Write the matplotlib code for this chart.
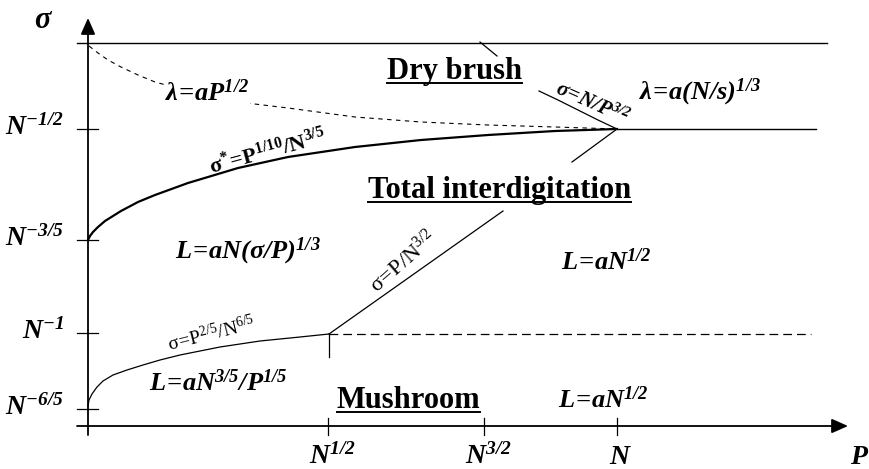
import matplotlib

matplotlib.use("Agg")
import matplotlib.pyplot as plt

plt.rcParams["font.family"] = ["Liberation Serif", "DejaVu Serif"]
plt.rcParams["mathtext.default"] = "regular"

# schematic units: x ~ log P, y ~ log sigma, origin at the axes corner
x_ticks = [240, 396, 529]
x_tick_labels = [r"$N^{1/2}$", r"$N^{3/2}$", r"$N$"]
y_ticks = [297, 186, 93, 17]
y_tick_labels = [r"$N^{-1/2}$", r"$N^{-3/5}$", r"$N^{-1}$", r"$N^{-6/5}$"]

x_end = 760
y_end = 408
top_y = 383.5
top_x_end = 739
half_line_x = [529, 728]

# sigma* = P^(1/10)/N^(3/5)  (thick boundary)
star_x = [0, 2, 5, 10, 17, 25, 33, 50, 67, 100, 150, 200, 267, 333, 400, 467, 529]
star_y = [186, 190, 194, 199, 205, 210, 215, 224, 231, 243, 258, 269, 279, 286, 291, 295, 297]

# lambda = a P^(1/2)  (dashed)
lam_x = [1, 10, 20, 33, 50, 67, 100, 150, 200, 267, 333, 400, 467, 529]
lam_y = [380, 373, 366, 359, 351, 344, 335, 324, 318, 309, 304, 301, 299, 297]

# sigma = P^(2/5)/N^(6/5)
mush_x = [0, 1, 4, 9, 15, 25, 39, 55, 72, 92, 132, 172, 212, 241]
mush_y = [20, 26, 32, 39, 45, 51, 56, 61, 66, 71, 79, 85, 89, 92]

# sigma = N/P^(3/2)
nb_x = [451, 470, 490, 510, 529]
nb_y = [335, 326, 316, 306, 297]

# straight boundaries
inter_x = [241, 415]
inter_y = [92, 215]
junction_x = [529, 484]
junction_y = [297, 264]
top_stub_x = [392, 409]
top_stub_y = [384, 370]
mush_stub_x = [241, 241]
mush_stub_y = [92, 69]
mush_dash_x = [241, 723]
mush_dash_y = [92, 92]

fig = plt.figure(figsize=(8.7, 4.69), dpi=100)
ax = fig.add_axes([0, 0, 1, 1])
ax.set_xlim(-88, 782)
ax.set_ylim(-43, 426)
ax.axis("off")

black = "black"
arrow = dict(arrowstyle="-|>,head_length=0.45,head_width=0.2", color=black, lw=1.3,
             mutation_scale=22, shrinkA=0, shrinkB=0)
ax.annotate("", xy=(x_end, 0), xytext=(-11, 0), arrowprops=arrow)
ax.annotate("", xy=(0, y_end), xytext=(0, -9), arrowprops=arrow)

for x in x_ticks:
    ax.plot([x, x], [-9, 8], color=black, lw=0.9)
for y in y_ticks:
    ax.plot([-11, 10], [y, y], color=black, lw=0.9)

ax.plot([-11, top_x_end], [top_y, top_y], color=black, lw=1.0)
ax.plot(half_line_x, [y_ticks[0], y_ticks[0]], color=black, lw=1.0)

ax.plot(star_x, star_y, color=black, lw=1.6)
ax.plot(lam_x, lam_y, color=black, lw=0.8, dashes=(4, 4))
ax.plot(mush_x, mush_y, color=black, lw=0.9)
ax.plot(nb_x, nb_y, color=black, lw=0.9)
ax.plot(inter_x, inter_y, color=black, lw=0.9)
ax.plot(junction_x, junction_y, color=black, lw=0.9)
ax.plot(top_stub_x, top_stub_y, color=black, lw=0.9)
ax.plot(mush_stub_x, mush_stub_y, color=black, lw=0.9)
ax.plot(mush_dash_x, mush_dash_y, color=black, lw=0.9, dashes=(7, 4))

bi = dict(family="Liberation Serif", weight="bold", style="italic")
b = dict(family="Liberation Serif", weight="bold")
rg = dict(family="Liberation Serif")

# axis labels
ax.text(-44, 406, r"$σ$", fontsize=22, ha="center", va="center", **bi)
ax.text(772, -38, r"$P$", fontsize=20, ha="center", va="baseline", **bi)
for x, lab in zip(x_ticks, x_tick_labels):
    ax.text(x + 4, -38, lab, fontsize=20, ha="center", va="baseline", **bi)
for y, lab in zip(y_ticks, y_tick_labels):
    ax.text(-24, y + 2, lab, fontsize=20, ha="right", va="center", **bi)

# region names (underlined)
regions = []
regions.append(ax.text(366.5, 347, "Dry brush", fontsize=22, ha="center", va="baseline", **b))
regions.append(ax.text(411.5, 228, "Total interdigitation", fontsize=22, ha="center", va="baseline", **b))
regions.append(ax.text(320.5, 18, "Mushroom", fontsize=22, ha="center", va="baseline", **b))

# scaling laws
ax.text(119, 333, r"$λ\!=\!aP^{1/2}$", fontsize=19, ha="center", va="center",
        bbox=dict(facecolor="white", edgecolor="none", pad=0.5), **bi)
ax.text(612, 334, r"$λ\!=\!a(N/s)^{1/3}$", fontsize=19, ha="center", va="center", **bi)
ax.text(160, 175, r"$L\!=\!aN(σ/P)^{1/3}$", fontsize=19, ha="center", va="center", **bi)
ax.text(518, 164, r"$L\!=\!aN^{1/2}$", fontsize=19, ha="center", va="center", **bi)
ax.text(130, 43, r"$L\!=\!aN^{3/5}/P^{1/5}$", fontsize=19, ha="center", va="center", **bi)
ax.text(515, 26, r"$L\!=\!aN^{1/2}$", fontsize=19, ha="center", va="center", **bi)

# boundary labels
ax.text(180, 274, r"$σ^{*}\!=\!P^{1/10}/N^{3/5}$", fontsize=16, ha="center", va="center",
        rotation=15, rotation_mode="anchor", **b)
ax.text(504, 322, r"$σ\!=\!N/P^{3/2}$", fontsize=15, ha="center", va="center",
        rotation=-24, rotation_mode="anchor", **bi)
ax.text(315, 164, r"$σ\!=\!P/N^{3/2}$", fontsize=16, ha="center", va="center",
        rotation=41, rotation_mode="anchor", **rg)
ax.text(123, 92, r"$σ\!=\!P^{2/5}/N^{6/5}$", fontsize=14, ha="center", va="center",
        rotation=14, rotation_mode="anchor", **rg)

fig.canvas.draw()
inv = ax.transData.inverted()
for t in regions:
    bb = t.get_window_extent()
    (x0, _), (x1, _) = inv.transform([[bb.x0, bb.y0], [bb.x1, bb.y1]])
    y = t.get_position()[1] - 4
    ax.plot([x0, x1], [y, y], color=black, lw=1.4)

fig.savefig("out.png", dpi=100)
